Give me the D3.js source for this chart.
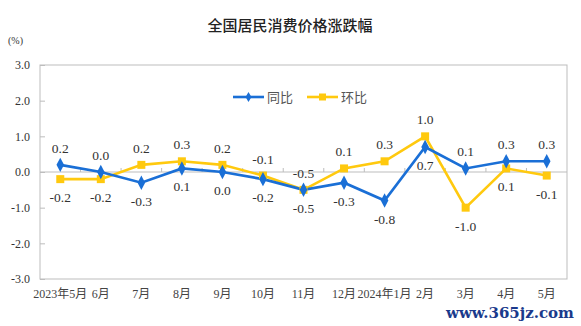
<!DOCTYPE html>
<html><head><meta charset="utf-8">
<script src="https://cdn.jsdelivr.net/npm/d3@7"></script>
<style>body{margin:0;background:#fff}svg{display:block}</style>
</head><body>
<svg id="c" width="581" height="326"></svg>
<script>
const categories = ["2023年5月","6月","7月","8月","9月","10月","11月","12月","2024年1月","2月","3月","4月","5月"];
const yoy = [0.2, 0.0, -0.3, 0.1, 0.0, -0.2, -0.5, -0.3, -0.8, 0.7, 0.1, 0.3, 0.3];
const mom = [-0.2, -0.2, 0.2, 0.3, 0.2, -0.1, -0.5, 0.1, 0.3, 1.0, -1.0, 0.1, -0.1];
const yTicks = [3, 2, 1, 0, -1, -2, -3];
const seriesNames = ["同比", "环比"];

const svg = d3.select("#c");
const m = {l:40, r:14, t:65, b:47};
const W = 581, H = 326;
const x = d3.scaleBand().domain(categories).range([m.l, W - m.r]);
const y = d3.scaleLinear().domain([-3, 3]).range([H - m.b, m.t]);
const cx = d => x(d) + x.bandwidth()/2;
const blue = "#1a6fd6", yellow = "#ffc90e";
const fmt = v => d3.format(".1f")(v).replace("\u2212", "-");

svg.append("rect").attr("x", m.l).attr("y", m.t).attr("width", W-m.l-m.r).attr("height", H-m.t-m.b)
  .attr("fill","none").attr("stroke","#bdbdbd").attr("stroke-width",1);
svg.append("line").attr("x1", m.l).attr("x2", W-m.r).attr("y1", y(0)).attr("y2", y(0))
  .attr("stroke","#bdbdbd").attr("stroke-width",1);
categories.slice(1).forEach(c => {
  svg.append("line").attr("x1", x(c)).attr("x2", x(c)).attr("y1", y(0)).attr("y2", y(0)-4)
    .attr("stroke","#bdbdbd");
});
const yAxis = d3.axisLeft(y).tickValues(yTicks).tickFormat(fmt).tickSize(-5).tickPadding(10);
const ga = svg.append("g").attr("transform", `translate(${m.l},0)`).call(yAxis);
ga.select(".domain").remove();
ga.selectAll("line").attr("stroke","#bdbdbd");
ga.selectAll("text").attr("font-family","'Liberation Serif', serif").attr("font-size",12).attr("fill","#333");

const xAxis = d3.axisBottom(x).tickSize(0).tickPadding(10);
const gx = svg.append("g").attr("transform", `translate(0,${H-m.b})`).call(xAxis);
gx.select(".domain").remove();
gx.selectAll("text").attr("font-family","'Liberation Serif', 'Noto Sans CJK SC', serif").attr("font-size",12).attr("fill","#444");

svg.append("text").attr("x", 290).attr("y", 31).attr("text-anchor","middle")
  .attr("font-family","'Noto Sans CJK SC', sans-serif").attr("font-size",15).attr("font-weight",500).attr("fill","#222")
  .text("全国居民消费价格涨跌幅");
svg.append("text").attr("x", 8).attr("y", 44).attr("font-family","'Liberation Serif', serif").attr("font-size",10).attr("fill","#333").text("(%)");

const line = d3.line().x((d,i) => cx(categories[i])).y(d => y(d));
svg.append("path").datum(mom).attr("d", line).attr("fill","none").attr("stroke", yellow).attr("stroke-width",2.6);
svg.append("path").datum(yoy).attr("d", line).attr("fill","none").attr("stroke", blue).attr("stroke-width",2.6);

svg.selectAll(".sq").data(mom).join("rect")
  .attr("x",(d,i)=>cx(categories[i])-4).attr("y",d=>y(d)-4).attr("width",8).attr("height",8).attr("fill",yellow);
const diamond = d3.symbol().type(d3.symbolDiamond).size(50);
svg.selectAll(".dm").data(yoy).join("path")
  .attr("d", diamond).attr("transform",(d,i)=>`translate(${cx(categories[i])},${y(d)}) scale(1,1.1)`).attr("fill",blue);

categories.forEach((c,i) => {
  const a = yoy[i], b = mom[i];
  const yoyAbove = a > b;
  const put = (v, above) => svg.append("text").attr("x", cx(c)).attr("y", above ? y(v)-12 : y(v)+23)
    .attr("text-anchor","middle").attr("font-family","'Liberation Serif', serif").attr("font-size",13.5).attr("fill","#333")
    .text(fmt(v));
  put(a, yoyAbove);
  put(b, !yoyAbove);
});

const lg = [{name:seriesNames[0], color:blue, x:233, sym:"d"},{name:seriesNames[1], color:yellow, x:307, sym:"s"}];
lg.forEach(l => {
  const ly = 97;
  svg.append("line").attr("x1",l.x).attr("x2",l.x+31).attr("y1",ly).attr("y2",ly).attr("stroke",l.color).attr("stroke-width",2.6);
  if (l.sym==="d") svg.append("path").attr("d", d3.symbol().type(d3.symbolDiamond).size(30)).attr("transform",`translate(${l.x+15.5},${ly})`).attr("fill",l.color);
  else svg.append("rect").attr("x",l.x+12).attr("y",ly-3.5).attr("width",7).attr("height",7).attr("fill",l.color);
  svg.append("text").attr("x",l.x+34).attr("y",ly+5).attr("font-family","'Noto Sans CJK SC', sans-serif").attr("font-size",13).attr("fill","#555").text(l.name);
});

svg.append("text").attr("x",574).attr("y",318).attr("text-anchor","end")
  .attr("font-family","'DejaVu Serif', serif").attr("font-size",15).attr("font-weight","bold").attr("fill","#1a3a8c")
  .text("www.365jz.com");
</script>
</body></html>
